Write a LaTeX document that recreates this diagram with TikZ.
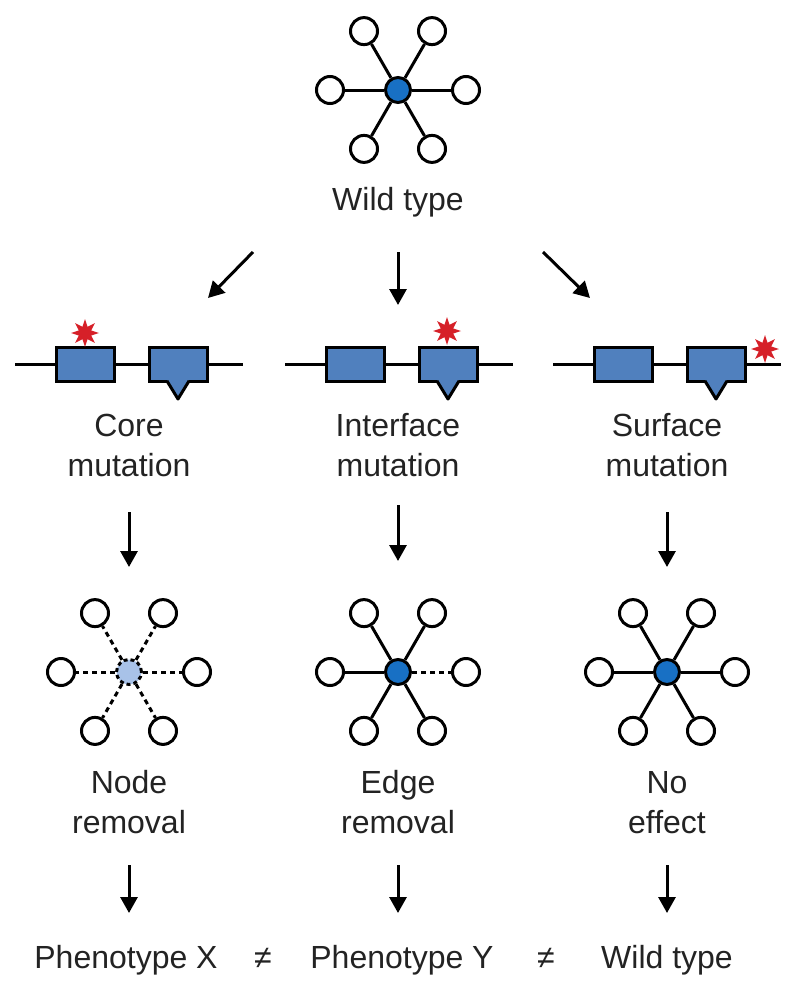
\documentclass[tikz,border=0pt]{standalone}
\usepackage{fontspec}
\setmainfont{Liberation Sans}
\usetikzlibrary{arrows.meta,shapes.geometric}

\definecolor{hubblue}{RGB}{24,112,196}
\definecolor{lostblue}{RGB}{168,194,232}
\definecolor{domblue}{RGB}{80,128,190}
\definecolor{hitred}{RGB}{214,32,40}
\definecolor{ink}{RGB}{35,35,35}

\tikzset{
  outer/.style={draw, circle, line width=3pt, minimum size=27pt, inner sep=0pt, fill=white},
  hub/.style={draw, circle, line width=3pt, minimum size=25pt, inner sep=0pt, fill=hubblue},
  link/.style={line width=3pt},
  gone/.style={line width=3pt, dash pattern=on 5pt off 4pt},
  txt/.style={font=\fontsize{32}{40}\selectfont, text=ink, align=center, inner sep=0pt, anchor=base},
  flow/.style={line width=3pt, -{Triangle[length=16pt,width=17pt]}},
  dombox/.style={draw, line width=3pt, fill=domblue, minimum width=58pt, minimum height=34pt, inner sep=0pt},
  wire/.style={line width=3pt},
  hit/.style={star, star points=8, star point ratio=2.1, fill=hitred, minimum size=28pt, inner sep=0pt}
}

\begin{document}
\begin{tikzpicture}[x=1pt, y=-1pt]
  \useasboundingbox (0,0) rectangle (800,990);

  % wild type
  \begin{scope}[shift={(398,90)}]
    \node[hub] (wt) at (0,0) {};
    \foreach \i/\a in {1/0,2/60,3/120,4/180,5/240,6/300}
      \node[outer] (wt\i) at (\a:68) {};
    \foreach \i in {1,...,6}
      \draw[link] (wt) -- (wt\i);
  \end{scope}
  \node[txt] (wtlab) at (398,210) {Wild type};

  \coordinate (s1) at (253,252); \coordinate (e1) at (208,298);
  \coordinate (s2) at (398,252); \coordinate (e2) at (398,305);
  \coordinate (s3) at (543,252); \coordinate (e3) at (590,298);
  \foreach \k in {1,2,3}
    \draw[flow] (s\k) -- (e\k);

  % proteins
  \foreach \k/\x in {1/15,2/285,3/553} {
    \coordinate (p\k l) at (\x,364);
    \coordinate (p\k r) at (\x+228,364);
    \node[dombox] (p\k a) at (\x+70,364) {};
    \node[dombox] (p\k b) at (\x+163,364) {};
    \draw[wire] (p\k l) -- (p\k a) (p\k a) -- (p\k b) (p\k b) -- (p\k r);
    \fill[domblue] (\x+152,379.3) -- (\x+163,399) -- (\x+174,379.3) -- cycle;
    \draw[wire, line join=round] (\x+152,381) -- (\x+163,399) -- (\x+174,381);
  }
  \node[hit] (m1) at (85,333) {};
  \node[hit] (m2) at (447,331) {};
  \node[hit] (m3) at (765,349) {};

  \node[txt] (lab1) at (129,476) {Core\\mutation};
  \node[txt] (lab2) at (398,476) {Interface\\mutation};
  \node[txt] (lab3) at (667,476) {Surface\\mutation};

  \coordinate (t1) at (129,512); \coordinate (u1) at (129,567);
  \coordinate (t2) at (398,505); \coordinate (u2) at (398,561);
  \coordinate (t3) at (667,512); \coordinate (u3) at (667,567);
  \foreach \k in {1,2,3}
    \draw[flow] (t\k) -- (u\k);

  % node removal
  \begin{scope}[shift={(129,672)}]
    \node[hub, fill=lostblue, dash pattern=on 4pt off 3pt] (cn) at (0,0) {};
    \foreach \i/\a in {1/0,2/60,3/120,4/180,5/240,6/300}
      \node[outer] (cn\i) at (\a:68) {};
    \foreach \i in {1,...,6}
      \draw[gone] (cn) -- (cn\i);
  \end{scope}

  % edge removal
  \begin{scope}[shift={(398,672)}]
    \node[hub] (in) at (0,0) {};
    \foreach \i/\a in {1/0,2/60,3/120,4/180,5/240,6/300}
      \node[outer] (in\i) at (\a:68) {};
    \draw[gone] (in) -- (in1);
    \foreach \i in {2,...,6}
      \draw[link] (in) -- (in\i);
  \end{scope}

  % no effect
  \begin{scope}[shift={(667,672)}]
    \node[hub] (sn) at (0,0) {};
    \foreach \i/\a in {1/0,2/60,3/120,4/180,5/240,6/300}
      \node[outer] (sn\i) at (\a:68) {};
    \foreach \i in {1,...,6}
      \draw[link] (sn) -- (sn\i);
  \end{scope}

  \node[txt] (res1) at (129,833) {Node\\removal};
  \node[txt] (res2) at (398,833) {Edge\\removal};
  \node[txt] (res3) at (667,833) {No\\effect};

  \foreach \k/\x in {1/129,2/398,3/667} {
    \coordinate (v\k) at (\x,865);
    \coordinate (w\k) at (\x,913);
    \draw[flow] (v\k) -- (w\k);
  }

  \node[txt] (ph1) at (126,968) {Phenotype X};
  \node[txt] (ne1) at (263,968) {≠};
  \node[txt] (ph2) at (402,968) {Phenotype Y};
  \node[txt] (ne2) at (546,968) {≠};
  \node[txt] (ph3) at (667,968) {Wild type};
\end{tikzpicture}
\end{document}
